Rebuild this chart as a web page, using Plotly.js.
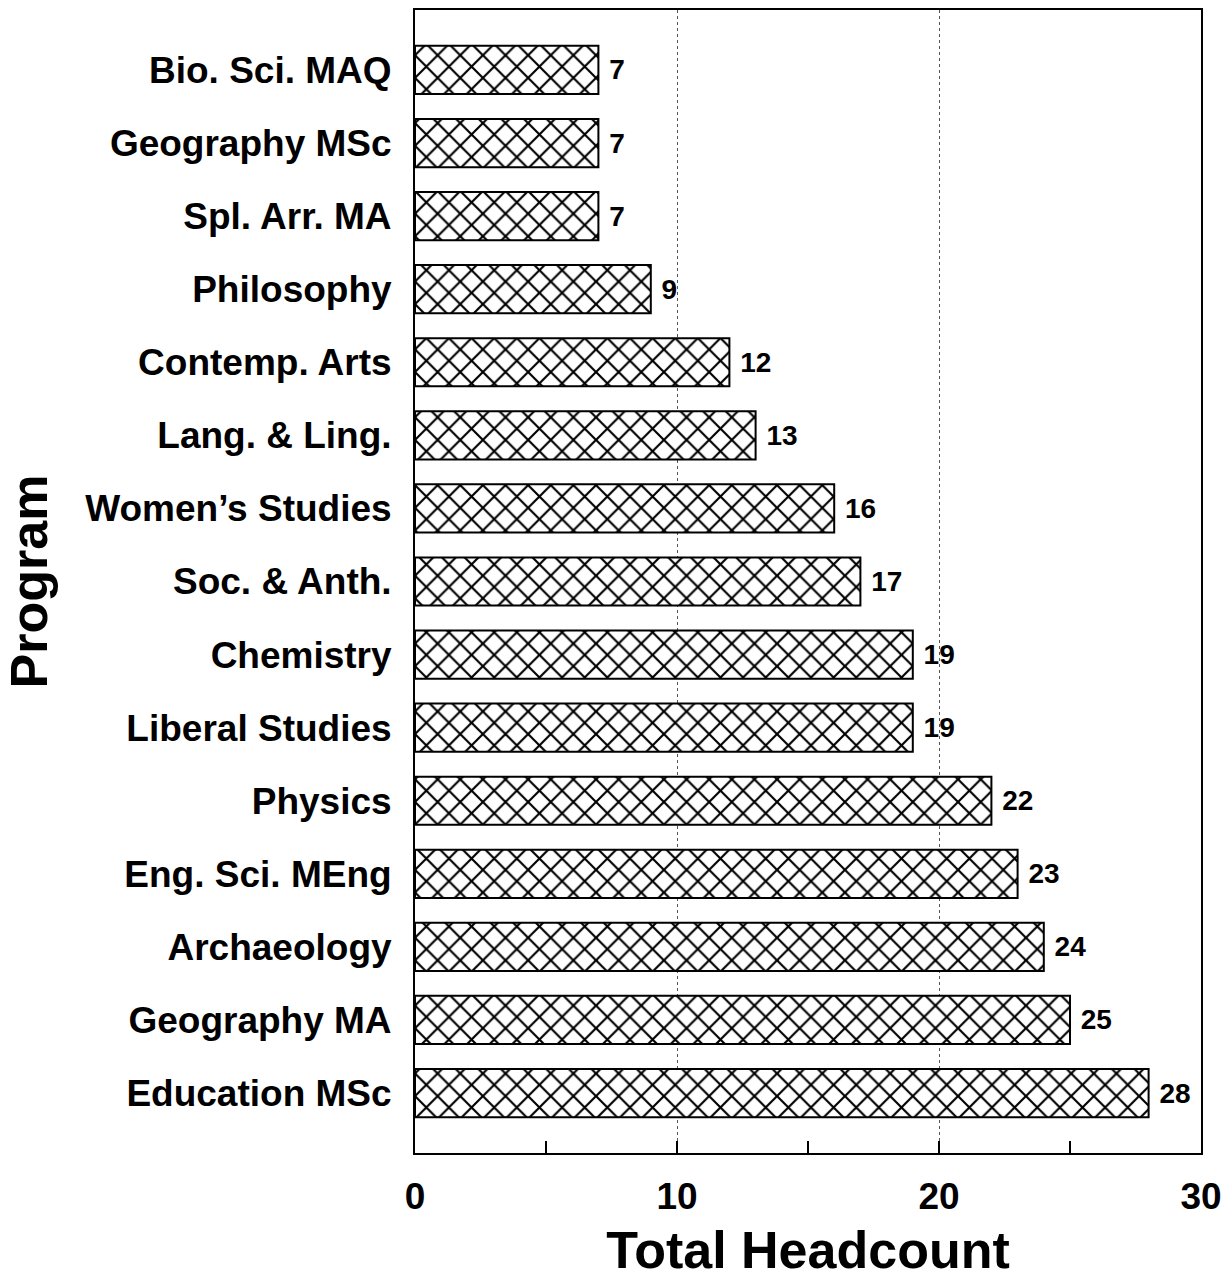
<!DOCTYPE html>
<html>
<head>
<meta charset="utf-8">
<script src="https://cdn.plot.ly/plotly-3.0.1.min.js"></script>
<style>html,body{margin:0;padding:0;background:#fff;}#chart{width:1224px;height:1279px;}</style>
</head>
<body>
<div id="chart"></div>
<script>
const programs = ["Bio. Sci. MAQ","Geography MSc","Spl. Arr. MA","Philosophy","Contemp. Arts","Lang. & Ling.","Women\u2019s Studies","Soc. & Anth.","Chemistry","Liberal Studies","Physics","Eng. Sci. MEng","Archaeology","Geography MA","Education MSc"];
const headcount = [7,7,7,9,12,13,16,17,19,19,22,23,24,25,28];
const xTickVals = [0,10,20,30];
const xTickText = ["0","10","20","30"];

const FONT = '"Liberation Sans", Arial, Helvetica, sans-serif';

const trace = {
  type: 'bar',
  orientation: 'h',
  y: programs,
  x: headcount,
  texttemplate: '\u00a0%{x}',
  textposition: 'outside',
  cliponaxis: false,
  constraintext: 'none',
  textfont: {family: FONT, size: 28, color: '#000', weight: 'bold'},
  marker: {
    color: '#fff',
    line: {color: '#000', width: 2},
    pattern: {shape: 'x', size: 16, solidity: 0.25, fgcolor: '#000', fgopacity: 1, bgcolor: '#fff', fillmode: 'replace'}
  },
  hoverinfo: 'skip'
};

const layout = {
  width: 1224, height: 1279,
  margin: {l: 415, r: 23, t: 10, b: 126},
  paper_bgcolor: '#fff', plot_bgcolor: '#fff',
  showlegend: false,
  bargap: 0.34,
  font: {family: FONT, color: '#000', weight: 'bold'},
  xaxis: {
    range: [0, 30],
    tickmode: 'array', tickvals: xTickVals, ticktext: xTickText,
    ticks: 'inside', ticklen: 12, tickwidth: 1.5, tickcolor: '#000',
    minor: {dtick: 5, tick0: 0, ticks: 'inside', ticklen: 12, tickwidth: 1.5, tickcolor: '#000', showgrid: false},
    showgrid: true, gridcolor: '#555', griddash: 'dot', gridwidth: 1,
    showline: true, linecolor: '#000', linewidth: 2, mirror: true,
    zeroline: false,
    tickfont: {family: FONT, size: 37, color: '#000', weight: 'bold'},
    ticklabelstandoff: 10,
    title: {text: 'Total Headcount', font: {family: FONT, size: 52, color: '#000', weight: 'bold'}, standoff: 22},
    fixedrange: true
  },
  yaxis: {
    type: 'category',
    categoryorder: 'array', categoryarray: programs,
    range: [14.82, -0.82],
    ticks: '', showgrid: false, zeroline: false,
    showline: true, linecolor: '#000', linewidth: 2, mirror: true,
    tickfont: {family: FONT, size: 37, color: '#000', weight: 'bold'},
    ticklabelstandoff: 14,
    title: {text: 'Program', font: {family: FONT, size: 52, color: '#000', weight: 'bold'}, standoff: 22},
    fixedrange: true
  }
};

Plotly.newPlot('chart', [trace], layout, {displayModeBar: false, staticPlot: true});
</script>
</body>
</html>
